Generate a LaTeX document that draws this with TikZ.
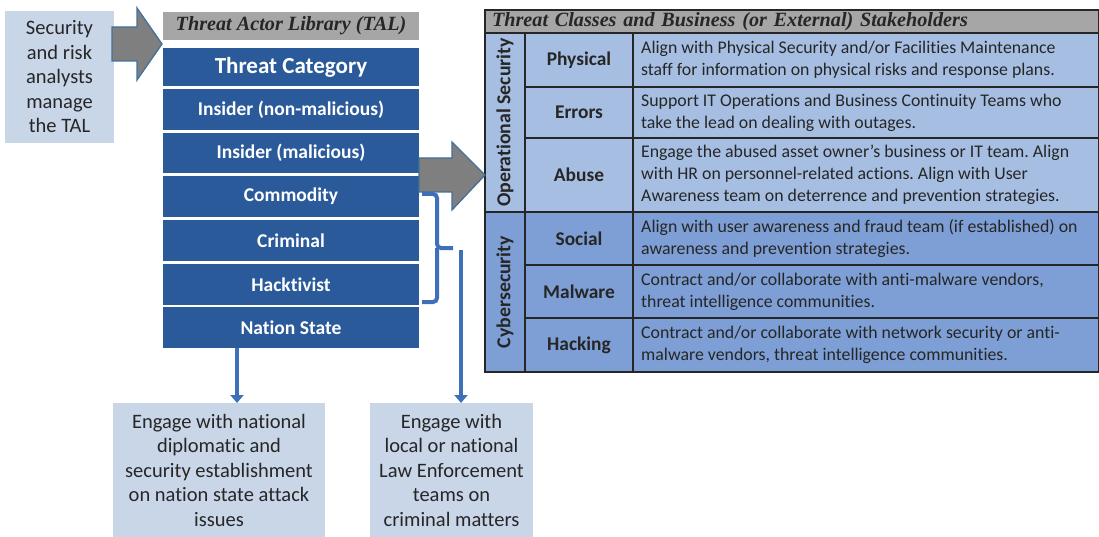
\documentclass[tikz,border=0pt]{standalone}
\usepackage{fontspec}
\setmainfont{Carlito}[Ligatures=NoCommon]
\newfontfamily\titlefont{Liberation Serif}
\usetikzlibrary{arrows.meta}
\frenchspacing
\definecolor{lightbox}{HTML}{C9D6E8}
\definecolor{talblue}{HTML}{2B5A9B}
\definecolor{hdrgray}{HTML}{A6A6A6}
\definecolor{arrowgray}{HTML}{7F7F7F}
\definecolor{arrowedge}{HTML}{41719C}
\definecolor{linkblue}{HTML}{3E6FB8}
\definecolor{opblue}{HTML}{A6BEE2}
\definecolor{cyblue}{HTML}{7D9FD5}
\definecolor{tblline}{HTML}{262626}
\definecolor{txt}{HTML}{262626}
\tikzset{
  box/.style={anchor=north west, inner sep=0pt, outer sep=0pt, align=center},
  note/.style={box, fill=lightbox, text=txt, font=\fontsize{20.5}{24.5}\selectfont},
  tal/.style={box, fill=talblue, text=white, font=\bfseries\fontsize{19.5}{22}\selectfont},
  hdr/.style={box, fill=hdrgray, text=black!85, font=\titlefont\bfseries\itshape\fontsize{20.2}{22}\selectfont},
  blockarrow/.style={fill=arrowgray, draw=arrowedge, line width=1.3pt, line join=miter},
  link/.style={draw=linkblue, line width=4.5pt},
  linkarrow/.style={link, -{Triangle[width=13pt,length=8pt]}},
  cell/.style={box, draw=tblline, line width=1.4pt, text=black!85},
  catcell/.style={cell, font=\bfseries\fontsize{19.4}{22}\selectfont},
  desctext/.style={anchor=west, inner sep=0pt, align=left, text=black!85, font=\fontsize{17.8}{22}\selectfont},
  vlabel/.style={rotate=90, font=\bfseries\fontsize{19.8}{22}\selectfont, text=black!85},
}
\begin{document}
\begin{tikzpicture}[x=1pt, y=-1pt]
\useasboundingbox (0,0) rectangle (1099,537);

% left note
\node[note, minimum width=109pt, minimum height=132pt] (analysts) at (5,11) {Security\\and risk\\analysts\\manage\\the TAL};

% gray block arrow 1
\coordinate (ga1) at (112,27);
\draw[blockarrow] (ga1) -- (137,27) -- (137,8) -- (162,44) -- (137,80) -- (137,61) -- (112,61) -- cycle;

% TAL
\node[hdr, minimum width=256pt, minimum height=28pt] (talhdr) at (163,12) {Threat Actor Library (TAL)};
\node[tal, minimum width=256pt, minimum height=38pt, font=\bfseries\fontsize{23}{24}\selectfont] (cat) at (163,48) {Threat Category};
\node[tal, minimum width=256pt, minimum height=41pt] (insnm) at (163,89) {Insider (non-malicious)};
\node[tal, minimum width=256pt, minimum height=40pt] (insm) at (163,133) {Insider (malicious)};
\node[tal, minimum width=256pt, minimum height=41pt] (comm) at (163,176) {Commodity};
\node[tal, minimum width=256pt, minimum height=41pt] (crim) at (163,220) {Criminal};
\node[tal, minimum width=256pt, minimum height=41pt] (hack) at (163,264) {Hacktivist};
\node[tal, minimum width=256pt, minimum height=41pt] (ns) at (163,307) {Nation State};

% table
\node[hdr, minimum width=614pt, minimum height=23pt, inner xsep=7pt, text width=600pt, align=left, draw=tblline, line width=1.4pt] (thdr) at (485,10) {Threat Classes and Business (or External) Stakeholders};

\node[cell, fill=opblue, minimum width=40pt, minimum height=179pt] (opsec) at (485,33) {};
\node[vlabel] at (opsec.center) {Operational Security};
\node[cell, fill=cyblue, minimum width=40pt, minimum height=160pt] (cysec) at (485,212) {};
\node[vlabel] at (cysec.center) {Cybersecurity};

\node[catcell, fill=opblue, minimum width=108pt, minimum height=54pt] (phys) at (525,33) {Physical};
\node[catcell, fill=opblue, minimum width=108pt, minimum height=51pt] (err) at (525,87) {Errors};
\node[catcell, fill=opblue, minimum width=108pt, minimum height=74pt] (abuse) at (525,138) {Abuse};
\node[catcell, fill=cyblue, minimum width=108pt, minimum height=53pt] (social) at (525,212) {Social};
\node[catcell, fill=cyblue, minimum width=108pt, minimum height=53pt] (malw) at (525,265) {Malware};
\node[catcell, fill=cyblue, minimum width=108pt, minimum height=54pt] (hacking) at (525,318) {Hacking};

\node[cell, fill=opblue, minimum width=466pt, minimum height=54pt] (dphys) at (633,33) {};
\node[cell, fill=opblue, minimum width=466pt, minimum height=51pt] (derr) at (633,87) {};
\node[cell, fill=opblue, minimum width=466pt, minimum height=74pt] (dabuse) at (633,138) {};
\node[cell, fill=cyblue, minimum width=466pt, minimum height=53pt] (dsocial) at (633,212) {};
\node[cell, fill=cyblue, minimum width=466pt, minimum height=53pt] (dmalw) at (633,265) {};
\node[cell, fill=cyblue, minimum width=466pt, minimum height=54pt] (dhack) at (633,318) {};

\node[desctext] at ([xshift=8pt]dphys.west) {Align with Physical Security and/or Facilities Maintenance\\staff for information on physical risks and response plans.};
\node[desctext] at ([xshift=8pt]derr.west) {Support IT Operations and Business Continuity Teams who\\take the lead on dealing with outages.};
\node[desctext] at ([xshift=8pt]dabuse.west) {Engage the abused asset owner’s business or IT team. Align\\with HR on personnel-related actions. Align with User\\Awareness team on deterrence and prevention strategies.};
\node[desctext] at ([xshift=8pt]dsocial.west) {Align with user awareness and fraud team (if established) on\\awareness and prevention strategies.};
\node[desctext] at ([xshift=8pt]dmalw.west) {Contract and/or collaborate with anti-malware vendors,\\threat intelligence communities.};
\node[desctext] at ([xshift=8pt]dhack.west) {Contract and/or collaborate with network security or anti-\\malware vendors, threat intelligence communities.};
\draw[tblline, line width=2pt] (485,10) rectangle (1099,372);

% gray block arrow 2
\coordinate (ga2) at (419,158);
\draw[blockarrow] (ga2) -- (452,158) -- (452,142) -- (485,175) -- (452,210) -- (452,192) -- (419,192) -- cycle;

% bottom notes
\node[note, minimum width=212pt, minimum height=134pt] (diplo) at (113,403) {Engage with national\\diplomatic and\\security establishment\\on nation state attack\\issues};
\node[note, minimum width=163pt, minimum height=134pt] (law) at (370,403) {Engage with\\local or national\\Law Enforcement\\teams on\\criminal matters};

% bracket
\coordinate (brtop) at (422,194);
\coordinate (brbot) at (422,302);
\coordinate (brmid) at (453,248);
\draw[link, line width=4pt, rounded corners=4pt] (brtop) -- (437,194) -- (437,248) -- (brmid);
\draw[link, line width=4pt, rounded corners=4pt] (brbot) -- (437,302) -- (437,248);

% connectors down
\coordinate (nsout) at (237,348);
\draw[linkarrow] (nsout) -- (nsout |- diplo.north);
\coordinate (crimout) at (461,250);
\draw[linkarrow] (crimout) -- (crimout |- law.north);
\end{tikzpicture}
\end{document}
